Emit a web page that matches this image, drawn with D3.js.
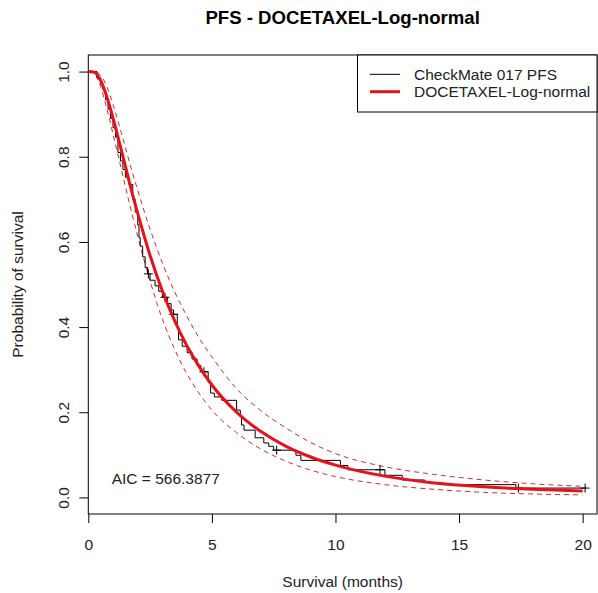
<!DOCTYPE html>
<html>
<head>
<meta charset="utf-8">
<script src="https://cdn.jsdelivr.net/npm/d3@7"></script>
<style>
  html, body { margin: 0; padding: 0; background: #fff; }
  svg { display: block; font-family: "Liberation Sans", Arial, sans-serif; }
</style>
</head>
<body>
<svg id="chart" width="598" height="593"></svg>
<script>
// Kaplan-Meier PFS estimate (event times and survival just after each step)
const kmTimes = [0, 0.35, 0.5, 0.6, 0.7, 0.8, 0.9, 1.0, 1.1, 1.2, 1.3, 1.4, 1.5, 1.65, 1.8, 1.9, 2.0, 2.05, 2.1, 2.2, 2.3, 2.4, 2.5, 2.7, 2.85, 3.0, 3.2, 3.35, 3.45, 3.6, 3.65, 3.8, 4.0, 4.2, 4.4, 4.55, 4.85, 4.95, 5.1, 5.4, 6.0, 6.15, 6.2, 6.3, 6.75, 7.1, 7.3, 7.5, 8.4, 8.6, 10.2, 10.5, 12.0, 12.7, 13.6, 14.3, 17.3, 20.1];
const kmSurv  = [1, 0.985, 0.970, 0.956, 0.934, 0.912, 0.890, 0.868, 0.846, 0.810, 0.790, 0.770, 0.752, 0.735, 0.700, 0.670, 0.640, 0.610, 0.590, 0.565, 0.540, 0.525, 0.510, 0.497, 0.484, 0.470, 0.455, 0.440, 0.430, 0.400, 0.370, 0.355, 0.340, 0.325, 0.310, 0.295, 0.270, 0.245, 0.236, 0.228, 0.205, 0.190, 0.170, 0.158, 0.140, 0.128, 0.120, 0.111, 0.099, 0.087, 0.075, 0.065, 0.052, 0.041, 0.035, 0.030, 0.022, 0.022];

// Censored observations
const censorTimes = [2.43, 3.1, 3.45, 4.68, 7.62, 11.8, 17.4, 20.1];
const censorSurv  = [0.525, 0.470, 0.430, 0.295, 0.111, 0.065, 0.022, 0.022];

// Log-normal fit with its confidence band
const fitTimes = [0, 0.25, 0.5, 0.75, 1, 1.25, 1.5, 1.75, 2, 2.5, 3, 3.5, 4, 4.5, 5, 6, 7, 8, 9, 10, 12, 14, 16, 18, 20];
const fitSurv  = [1, 0.998, 0.979, 0.941, 0.891, 0.835, 0.778, 0.720, 0.667, 0.568, 0.484, 0.414, 0.355, 0.306, 0.264, 0.200, 0.154, 0.120, 0.095, 0.076, 0.050, 0.034, 0.025, 0.019, 0.015];
const fitUpper = [1, 0.9995, 0.991, 0.965, 0.923, 0.874, 0.822, 0.770, 0.721, 0.630, 0.550, 0.482, 0.424, 0.373, 0.330, 0.255, 0.203, 0.163, 0.129, 0.103, 0.072, 0.054, 0.041, 0.032, 0.026];
const fitLower = [1, 0.995, 0.964, 0.913, 0.853, 0.792, 0.730, 0.670, 0.613, 0.508, 0.418, 0.347, 0.289, 0.243, 0.205, 0.152, 0.113, 0.085, 0.064, 0.049, 0.030, 0.019, 0.012, 0.008, 0.006];

const xTicks = [0, 5, 10, 15, 20];
const yTicks = [0.0, 0.2, 0.4, 0.6, 0.8, 1.0];
const titleText = "PFS - DOCETAXEL-Log-normal";
const xLabel = "Survival (months)";
const yLabel = "Probability of survival";
const legendLabels = ["CheckMate 017 PFS", "DOCETAXEL-Log-normal"];
const aicText = "AIC = 566.3877";

const svg = d3.select("#chart");
const fs = 15.5;
const lineH = 18.5;
const plot = { left: 88.3, right: 597, top: 55, bottom: 514 };

const x = d3.scaleLinear().domain([0, 20.58]).range([plot.left, plot.right]);
const y = d3.scaleLinear().domain([-0.0389, 1.0389]).range([plot.bottom, plot.top]);

// Plot box
svg.append("rect")
  .attr("x", plot.left).attr("y", plot.top)
  .attr("width", plot.right - plot.left).attr("height", plot.bottom - plot.top)
  .attr("fill", "none").attr("stroke", "#000").attr("stroke-width", 1);

// X axis
const gx = svg.append("g")
  .attr("transform", `translate(0,${plot.bottom})`)
  .call(d3.axisBottom(x).tickValues(xTicks).tickFormat(d3.format("d")).tickSize(9).tickPadding(16));
gx.select(".domain").remove();
gx.selectAll("text").attr("font-size", fs).attr("font-family", null).attr("fill", "#222");
gx.selectAll("line").attr("stroke", "#000");

// Y axis
const gy = svg.append("g")
  .attr("transform", `translate(${plot.left},0)`)
  .call(d3.axisLeft(y).tickValues(yTicks).tickFormat(d3.format(".1f")).tickSize(9));
gy.select(".domain").remove();
gy.selectAll("line").attr("stroke", "#000");
gy.selectAll("text")
  .attr("x", null).attr("dy", null).attr("font-size", fs).attr("font-family", null).attr("fill", "#222")
  .attr("text-anchor", "middle")
  .attr("transform", `translate(${-lineH - 1},0) rotate(-90)`);

// Titles
svg.append("text").attr("x", (plot.left + plot.right) / 2).attr("y", 24)
  .attr("text-anchor", "middle").attr("font-weight", "bold").attr("font-size", fs * 1.2)
  .text(titleText);
svg.append("text").attr("x", (plot.left + plot.right) / 2).attr("y", plot.bottom + 4 * lineH - 1)
  .attr("text-anchor", "middle").attr("font-size", fs).attr("fill", "#222").text(xLabel);
svg.append("text")
  .attr("transform", `translate(23,${(plot.top + plot.bottom) / 2}) rotate(-90)`)
  .attr("text-anchor", "middle").attr("font-size", fs).attr("fill", "#222").text(yLabel);

const g = svg.append("g");

// Confidence band (dashed)
const fitLine = d3.line().x(d => x(d[0])).y(d => y(d[1])).curve(d3.curveMonotoneX);
[fitUpper, fitLower].forEach(arr => {
  g.append("path")
    .datum(fitTimes.map((t, i) => [t, arr[i]]))
    .attr("d", fitLine)
    .attr("fill", "none").attr("stroke", "#d02a30").attr("stroke-width", 1)
    .attr("stroke-dasharray", "5,4");
});

// Kaplan-Meier step curve
const kmLine = d3.line().x(d => x(d[0])).y(d => y(d[1])).curve(d3.curveStepAfter);
g.append("path")
  .datum(kmTimes.map((t, i) => [t, kmSurv[i]]))
  .attr("d", kmLine)
  .attr("fill", "none").attr("stroke", "#000").attr("stroke-width", 1);

// Censor marks
const cs = 4.5;
g.selectAll("path.censor")
  .data(censorTimes.map((t, i) => [t, censorSurv[i]]))
  .join("path").attr("class", "censor")
  .attr("d", d => `M${x(d[0]) - cs},${y(d[1])}H${x(d[0]) + cs}M${x(d[0])},${y(d[1]) - cs}V${y(d[1]) + cs}`)
  .attr("stroke", "#000").attr("stroke-width", 1);

// Fitted log-normal survival
g.append("path")
  .datum(fitTimes.map((t, i) => [t, fitSurv[i]]))
  .attr("d", fitLine)
  .attr("fill", "none").attr("stroke", "#e8101a").attr("stroke-width", 3);

// AIC annotation
svg.append("text").attr("x", 111.7).attr("y", 484)
  .attr("font-size", fs).attr("fill", "#222").text(aicText);

// Legend
const lg = svg.append("g");
lg.append("rect").attr("x", 357.5).attr("y", plot.top).attr("width", plot.right - 357.5).attr("height", 57)
  .attr("fill", "#fff").attr("stroke", "#000").attr("stroke-width", 1);
const legendStyles = [{ c: "#000", w: 1 }, { c: "#e8101a", w: 3 }];
legendLabels.forEach((lab, i) => {
  const ly = 74.3 + i * 17.4;
  lg.append("line").attr("x1", 370).attr("x2", 400).attr("y1", ly).attr("y2", ly)
    .attr("stroke", legendStyles[i].c).attr("stroke-width", legendStyles[i].w);
  lg.append("text").attr("x", 414).attr("y", ly + 5.5).attr("font-size", fs).attr("fill", "#222").text(lab);
});
</script>
</body>
</html>
